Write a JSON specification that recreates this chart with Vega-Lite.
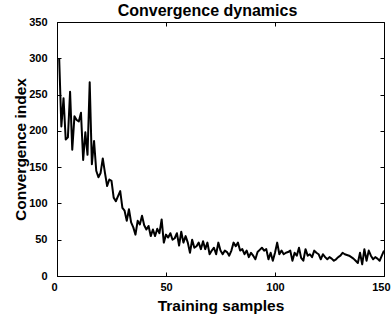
{
  "$schema": "https://vega.github.io/schema/vega-lite/v6.json",
  "width": 327,
  "height": 254,
  "autosize": {"type": "none"},
  "padding": {"left": 57, "top": 22, "right": 7, "bottom": 46},
  "background": "white",
  "title": {"text": "Convergence dynamics", "fontSize": 16, "font": "Liberation Sans", "fontWeight": "bold", "color": "black", "offset": -3, "anchor": "middle", "dx": -13},
  "config": {
    "view": {"stroke": "black", "strokeWidth": 1},
    "axis": {"grid": false, "domainColor": "black", "tickColor": "black", "labelColor": "black", "titleColor": "black", "labelFont": "Liberation Sans", "titleFont": "Liberation Sans", "labelFontWeight": "bold", "titleFontWeight": "bold", "labelFontSize": 11, "titleFontSize": 15.5, "tickSize": -4, "domainWidth": 1, "tickWidth": 1, "labelFlush": false, "labelOverlap": false}
  },
  "data": {"values": [
    {"x":1,"y":300},{"x":2,"y":206},{"x":3,"y":245},{"x":4,"y":188},{"x":5,"y":191},{"x":6,"y":254},{"x":7,"y":174},{"x":8,"y":220},{"x":9,"y":215},{"x":10,"y":213},
    {"x":11,"y":225},{"x":12,"y":160},{"x":13,"y":198},{"x":14,"y":167},{"x":15,"y":267},{"x":16,"y":154},{"x":17,"y":186},{"x":18,"y":145},{"x":19,"y":136},{"x":20,"y":142},
    {"x":21,"y":162},{"x":22,"y":142},{"x":23,"y":124},{"x":24,"y":133},{"x":25,"y":131},{"x":26,"y":108},{"x":27,"y":103},{"x":28,"y":110},{"x":29,"y":117},{"x":30,"y":94},
    {"x":31,"y":90},{"x":32,"y":76},{"x":33,"y":92},{"x":34,"y":74},{"x":35,"y":67},{"x":36,"y":57},{"x":37,"y":76},{"x":38,"y":71},{"x":39,"y":83},{"x":40,"y":70},
    {"x":41,"y":64},{"x":42,"y":69},{"x":43,"y":55},{"x":44,"y":64},{"x":45,"y":55},{"x":46,"y":65},{"x":47,"y":59},{"x":48,"y":78},{"x":49,"y":46},{"x":50,"y":57},
    {"x":51,"y":53},{"x":52,"y":59},{"x":53,"y":50},{"x":54,"y":52},{"x":55,"y":59},{"x":56,"y":42},{"x":57,"y":61},{"x":58,"y":46},{"x":59,"y":55},{"x":60,"y":46},
    {"x":61,"y":32},{"x":62,"y":50},{"x":63,"y":39},{"x":64,"y":41},{"x":65,"y":46},{"x":66,"y":37},{"x":67,"y":48},{"x":68,"y":37},{"x":69,"y":46},{"x":70,"y":30},
    {"x":71,"y":35},{"x":72,"y":39},{"x":73,"y":30},{"x":74,"y":46},{"x":75,"y":35},{"x":76,"y":30},{"x":77,"y":35},{"x":78,"y":33},{"x":79,"y":28},{"x":80,"y":35},
    {"x":81,"y":46},{"x":82,"y":41},{"x":83,"y":46},{"x":84,"y":35},{"x":85,"y":37},{"x":86,"y":30},{"x":87,"y":35},{"x":88,"y":26},{"x":89,"y":32},{"x":90,"y":28},
    {"x":91,"y":23},{"x":92,"y":33},{"x":93,"y":36},{"x":94,"y":39},{"x":95,"y":35},{"x":96,"y":37},{"x":97,"y":23},{"x":98,"y":32},{"x":99,"y":21},{"x":100,"y":32},
    {"x":101,"y":46},{"x":102,"y":30},{"x":103,"y":35},{"x":104,"y":30},{"x":105,"y":32},{"x":106,"y":33},{"x":107,"y":35},{"x":108,"y":21},{"x":109,"y":32},{"x":110,"y":28},
    {"x":111,"y":39},{"x":112,"y":25},{"x":113,"y":21},{"x":114,"y":37},{"x":115,"y":28},{"x":116,"y":30},{"x":117,"y":26},{"x":118,"y":35},{"x":119,"y":32},{"x":120,"y":30},
    {"x":121,"y":23},{"x":122,"y":30},{"x":123,"y":26},{"x":124,"y":23},{"x":125,"y":26},{"x":126,"y":24},{"x":127,"y":21},{"x":128,"y":23},{"x":129,"y":26},{"x":130,"y":28},
    {"x":131,"y":32},{"x":132,"y":30},{"x":133,"y":29},{"x":134,"y":28},{"x":135,"y":26},{"x":136,"y":24},{"x":137,"y":21},{"x":138,"y":18},{"x":139,"y":32},{"x":140,"y":16},
    {"x":141,"y":37},{"x":142,"y":21},{"x":143,"y":35},{"x":144,"y":28},{"x":145,"y":23},{"x":146,"y":26},{"x":147,"y":24},{"x":148,"y":21},{"x":149,"y":28},{"x":150,"y":35}
  ]},
  "layer": [
    {
      "mark": {"type": "line", "color": "black", "strokeWidth": 2, "strokeJoin": "round"},
      "encoding": {
        "x": {"field": "x", "type": "quantitative", "scale": {"domain": [0, 150], "nice": false, "zero": false}, "axis": {"orient": "bottom", "values": [0, 50, 100, 150], "title": "Training samples", "titlePadding": 6, "labelPadding": 9, "labelFlush": true, "labelFlushOffset": 6}},
        "y": {"field": "y", "type": "quantitative", "scale": {"domain": [0, 350], "nice": false}, "axis": {"orient": "left", "values": [0, 50, 100, 150, 200, 250, 300, 350], "title": "Convergence index", "titlePadding": 0, "labelPadding": 14}}
      }
    },
    {
      "mark": {"type": "line", "opacity": 0},
      "encoding": {
        "x": {"field": "x", "type": "quantitative", "axis": {"orient": "top", "values": [0, 50, 100, 150], "labels": false, "title": null, "domain": false}},
        "y": {"field": "y", "type": "quantitative", "axis": {"orient": "right", "values": [0, 50, 100, 150, 200, 250, 300, 350], "labels": false, "title": null, "domain": false}}
      }
    }
  ],
  "resolve": {"axis": {"x": "independent", "y": "independent"}}
}
